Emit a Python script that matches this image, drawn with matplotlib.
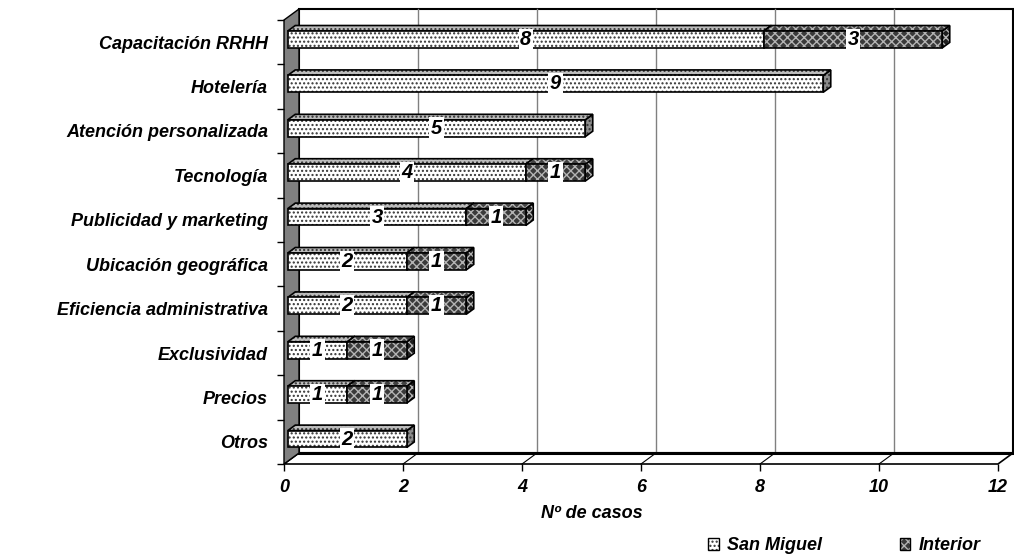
import matplotlib
matplotlib.use('Agg')
import matplotlib.pyplot as plt
from matplotlib.patches import Polygon, Patch

# Datos (de abajo hacia arriba)
categorias = ['Otros', 'Precios', 'Exclusividad', 'Eficiencia administrativa',
              'Ubicación geográfica', 'Publicidad y marketing', 'Tecnología',
              'Atención personalizada', 'Hotelería', 'Capacitación RRHH']
san_miguel = [2, 1, 1, 2, 2, 3, 4, 5, 9, 8]
interior = [0, 1, 1, 1, 1, 1, 1, 0, 0, 3]
ticks_x = [0, 2, 4, 6, 8, 10, 12]
series = ['San Miguel', 'Interior']

plt.rcParams['font.family'] = ['Liberation Sans', 'DejaVu Sans']
plt.rcParams['hatch.linewidth'] = 1.0
FS = 13

fig = plt.figure(figsize=(10.14, 5.55), dpi=100)
ax = fig.add_axes([284/1014, 91/555, 714/1014, 444/555])
ax.set_xlim(0, 12)
ax.set_ylim(-0.5, 9.5)

# profundidad del efecto 3D en unidades de datos (~15 x 11 px)
DX = 15 * 12 / 714
DY = 11 * 10 / 444
T0, T1 = 0.25, 0.75   # posicion de las barras dentro de la profundidad
H = 0.38              # alto de la cara frontal

# estilos: (cara, tapa, lado, trama, color de trama)
estilo = {
    'San Miguel': ('white', '#bdbdbd', '#8c8c8c', '....', '#333333'),
    'Interior': ('#3a3a3a', '#424242', '#1e1e1e', 'xxxx', '#b4b4b4'),
}


def poly(pts, fc, trama=None, ctrama=None, z=3, lw=1.2):
    ax.add_patch(Polygon(pts, closed=True, facecolor=fc, edgecolor='none',
                         zorder=z, clip_on=False))
    if trama:
        ax.add_patch(Polygon(pts, closed=True, facecolor='none', edgecolor=ctrama,
                             hatch=trama, lw=0, zorder=z, clip_on=False))
    ax.add_patch(Polygon(pts, closed=True, facecolor='none', edgecolor='black',
                         lw=lw, zorder=z, clip_on=False))


def caja(x0, x1, yc, serie):
    cara, tapa, lado, trama, ct = estilo[serie]
    y0, y1 = yc - H/2, yc + H/2
    fx, fy = T0*DX, T0*DY
    bx, by = T1*DX, T1*DY
    lat = [(x1+fx, y0+fy), (x1+bx, y0+by), (x1+bx, y1+by), (x1+fx, y1+fy)]
    sup = [(x0+fx, y1+fy), (x1+fx, y1+fy), (x1+bx, y1+by), (x0+bx, y1+by)]
    fre = [(x0+fx, y0+fy), (x1+fx, y0+fy), (x1+fx, y1+fy), (x0+fx, y1+fy)]
    poly(lat, lado, trama, ct)
    poly(sup, tapa, trama, ct)
    poly(fre, cara, trama, ct)


# --- paredes y piso ---
yb, yt = -0.5, 9.5
poly([(DX, yb+DY), (12+DX, yb+DY), (12+DX, yt+DY), (DX, yt+DY)], 'white', z=0, lw=1.5)
for x in ticks_x[1:-1]:
    ax.plot([x+DX, x+DX], [yb+DY, yt+DY], color='#808080', lw=1, zorder=0.5, clip_on=False)
poly([(0, yb), (12, yb), (12+DX, yb+DY), (DX, yb+DY)], 'white', z=1, lw=1.2)
for x in ticks_x[1:-1]:
    ax.plot([x, x+DX], [yb, yb+DY], color='black', lw=0.8, zorder=1, clip_on=False)
ax.plot([DX, 12+DX], [yb+DY, yb+DY], color='black', lw=2.2, zorder=1.1, clip_on=False)
poly([(0, yb), (0, yt), (DX, yt+DY), (DX, yb+DY)], '#808080', z=1.2, lw=1)

# --- barras apiladas ---
for i, (a, b) in enumerate(zip(san_miguel, interior)):
    if a:
        caja(0, a, i, 'San Miguel')
    if b:
        caja(a, a+b, i, 'Interior')

# etiquetas de valor
for i, (a, b) in enumerate(zip(san_miguel, interior)):
    yc = i + T0*DY
    for x, v in ((a/2, a), (a + b/2, b)):
        if v:
            ax.text(x + T0*DX, yc, str(v), ha='center', va='center', fontsize=14.5,
                    fontweight='bold', fontstyle='italic', zorder=6,
                    bbox=dict(facecolor='white', edgecolor='none', pad=1.0))

# --- ejes ---
for s in ax.spines.values():
    s.set_visible(False)
ax.set_xticks(ticks_x, labels=[str(t) for t in ticks_x], fontsize=FS,
              fontweight='bold', fontstyle='italic')
ax.tick_params(axis='x', length=5, width=1, pad=6, color='black')
ax.set_yticks(range(len(categorias)), labels=categorias, fontsize=FS,
              fontweight='bold', fontstyle='italic')
ax.set_yticks([k - 0.5 for k in range(len(categorias) + 1)], minor=True)
ax.tick_params(axis='y', which='major', length=0, pad=11.5)
ax.tick_params(axis='y', which='minor', length=5, width=1, color='black')

ax.set_xlabel('Nº de casos', fontsize=FS, fontweight='bold', fontstyle='italic')
ax.xaxis.set_label_coords((592-284)/714, -(513-464)/444)
ax.xaxis.label.set_va('center')

# leyenda
handles = []
for s in series:
    cara, tapa, lado, trama, ct = estilo[s]
    handles.append((Patch(facecolor=cara, edgecolor='none'),
                    Patch(facecolor='none', edgecolor=ct, hatch=trama, lw=0),
                    Patch(facecolor='none', edgecolor='black', lw=1)))
fig.legend(handles, series, loc='center left', bbox_to_anchor=(708/1014, 1 - 546/555),
           ncol=2, frameon=False, handlelength=0.6, handleheight=0.6,
           handletextpad=0.45, columnspacing=4.3, borderpad=0, borderaxespad=0,
           prop=dict(size=FS, weight='bold', style='italic'))

fig.savefig('out.png', dpi=100, facecolor='white')
